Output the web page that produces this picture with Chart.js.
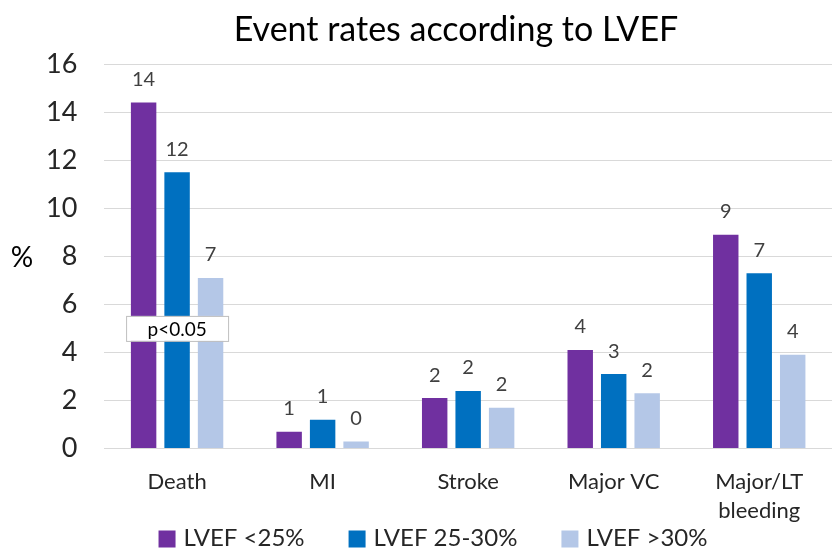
<!DOCTYPE html>
<html>
<head>
<meta charset="utf-8">
<script src="https://cdn.jsdelivr.net/npm/chart.js@4"></script>
<style>
  body { margin: 0; background: #fff; }
  #wrap { width: 832px; height: 548px; }
</style>
</head>
<body>
<div id="wrap"><canvas id="js-bar-chart" width="832" height="548"></canvas></div>
<script>
// Chart data
const categories = ['Death', 'MI', 'Stroke', 'Major VC', ['Major/LT', 'bleeding']];
const lvefUnder25 = [14.4, 0.7, 2.1, 4.1, 8.9];
const lvef25to30 = [11.5, 1.2, 2.4, 3.1, 7.3];
const lvefOver30 = [7.1, 0.3, 1.7, 2.3, 3.9];
const yTicks = [0, 2, 4, 6, 8, 10, 12, 14, 16];

const fontFamily = 'Lato, "Open Sans", sans-serif';
const textColor = '#404040';

// Draws title, rounded value labels, the p-value box, the % axis label and the legend
const barLabels = {
  id: 'barLabels',
  afterDatasetsDraw(chart) {
    const ctx = chart.ctx;
    ctx.save();
    ctx.textAlign = 'center';

    // title
    ctx.font = '34px ' + fontFamily;
    ctx.fillStyle = '#000000';
    ctx.textBaseline = 'middle';
    ctx.fillText('Event rates according to LVEF', 456, 30);

    ctx.font = '20px ' + fontFamily;
    ctx.fillStyle = textColor;
    ctx.textBaseline = 'bottom';
    chart.data.datasets.forEach((ds, i) => {
      chart.getDatasetMeta(i).data.forEach((bar, j) => {
        ctx.fillText(Math.round(ds.data[j]), bar.x, bar.y - 13);
      });
    });

    // p<0.05 box over the Death group
    const x = chart.scales.x.getPixelForValue(0);
    const y = chart.scales.y.getPixelForValue(5);
    const w = 102, h = 25;
    ctx.fillStyle = '#ffffff';
    ctx.strokeStyle = '#bfbfbf';
    ctx.lineWidth = 1;
    ctx.fillRect(x - w / 2, y - h / 2, w, h);
    ctx.strokeRect(x - w / 2 + 0.5, y - h / 2 + 0.5, w, h);
    ctx.fillStyle = '#000000';
    ctx.font = '19px ' + fontFamily;
    ctx.textBaseline = 'middle';
    ctx.fillText('p<0.05', x, y + 1);

    // horizontal "%" axis label
    const area = chart.chartArea;
    ctx.font = '28px ' + fontFamily;
    ctx.fillText('%', 22, (area.top + area.bottom) / 2 + 2);

    // legend along the bottom
    ctx.font = '24px ' + fontFamily;
    ctx.textAlign = 'left';
    const box = 17, gapText = 8, gapItem = 44;
    const items = chart.data.datasets.map(ds => ({
      label: ds.label, color: ds.backgroundColor, w: ctx.measureText(ds.label).width
    }));
    const total = items.reduce((s, it) => s + box + gapText + it.w, 0) + gapItem * (items.length - 1);
    let lx = 433 - total / 2;
    const ly = 538;
    items.forEach(it => {
      ctx.fillStyle = it.color;
      ctx.fillRect(lx, ly - box / 2 + 1, box, box);
      lx += box + gapText;
      ctx.fillStyle = '#262626';
      ctx.fillText(it.label, lx, ly);
      lx += it.w + gapItem;
    });
    ctx.restore();
  }
};

const ctx = document.getElementById('js-bar-chart').getContext('2d');

new Chart(ctx, {
  type: 'bar',
  data: {
    labels: categories,
    datasets: [
      { label: 'LVEF <25%', data: lvefUnder25, backgroundColor: '#7030A0' },
      { label: 'LVEF 25-30%', data: lvef25to30, backgroundColor: '#0070C0' },
      { label: 'LVEF >30%', data: lvefOver30, backgroundColor: '#B4C7E7' }
    ]
  },
  options: {
    responsive: false,
    animation: false,
    categoryPercentage: 0.69,
    barPercentage: 0.76,
    layout: { padding: { top: 64, right: 0, left: 19, bottom: 12 } },
    plugins: {
      title: { display: false },
      legend: { display: false },
      tooltip: { enabled: false }
    },
    scales: {
      x: {
        grid: { display: false },
        border: { color: '#d9d9d9' },
        ticks: {
          color: '#262626',
          font: { family: fontFamily, size: 22, lineHeight: 1.35 },
          padding: 10,
          maxRotation: 0
        }
      },
      y: {
        min: 0,
        max: 16,
        afterBuildTicks(axis) {
          axis.ticks = yTicks.map(v => ({ value: v }));
        },
        grid: { color: '#d9d9d9', drawTicks: false },
        border: { display: false },
        ticks: {
          color: '#262626',
          font: { family: fontFamily, size: 27 },
          padding: 27
        }
      }
    }
  },
  plugins: [barLabels]
});
</script>
</body>
</html>
